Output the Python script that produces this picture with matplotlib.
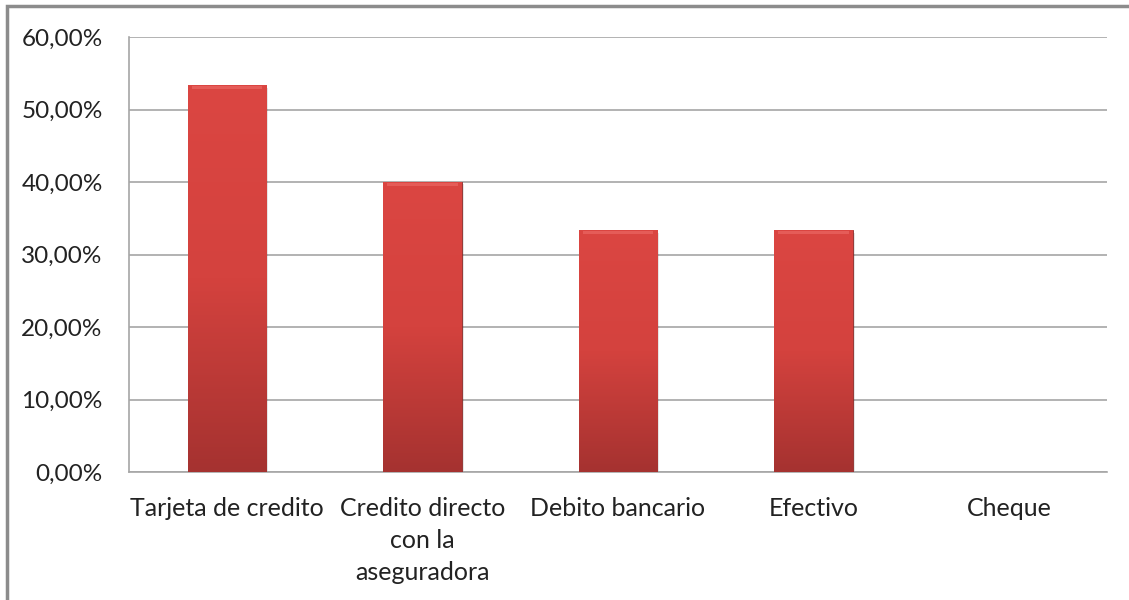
import numpy as np
import matplotlib.pyplot as plt
from matplotlib.colors import LinearSegmentedColormap
from matplotlib.ticker import FuncFormatter

categorias = ["Tarjeta de credito", "Credito directo\ncon la\naseguradora",
              "Debito bancario", "Efectivo", "Cheque"]
valores = [0.5333, 0.40, 0.3333, 0.3333, 0.0]
yticks = [0, 0.1, 0.2, 0.3, 0.4, 0.5, 0.6]

plt.rcParams['font.family'] = ['Lato', 'DejaVu Sans']

fig = plt.figure(figsize=(11.29, 6), dpi=100)
ax = fig.add_axes([0.1143, 0.2133, 0.8662, 0.725])

x = np.arange(len(categorias))
bars = ax.bar(x, valores, width=0.4, color='#d0403c', zorder=3)

# vertical gradient inside each bar (light red top, darker bottom)
cmap = LinearSegmentedColormap.from_list('rojo', ['#a53230', '#d4423e', '#db4642'])
grad = np.linspace(0, 1, 256).reshape(-1, 1)
for b in bars:
    h = b.get_height()
    if h <= 0:
        continue
    x0 = b.get_x()
    w = b.get_width()
    # soft shadow
    ax.bar(x0 + w / 2 + 0.012, h, width=w, bottom=-0.003, color='#000000',
           alpha=0.10, zorder=2)
    im = ax.imshow(grad, extent=[x0, x0 + w, 0, h], origin='lower',
                   cmap=cmap, aspect='auto', zorder=4)
    im.set_clip_path(b)
    b.set_edgecolor('#8a2a28')
    b.set_linewidth(0.6)
    # bevel highlight at top
    ax.bar(x0 + w / 2, 0.004, width=w * 0.9, bottom=h - 0.005, color='#f07470',
           alpha=0.5, zorder=5)

ax.set_xlim(-0.5, len(categorias) - 0.5)
ax.set_ylim(0, 0.6)
ax.set_yticks(yticks)
ax.yaxis.set_major_formatter(FuncFormatter(
    lambda v, p: f"{v*100:.2f}%".replace('.', ',')))
ax.set_xticks(x)
ax.set_xticklabels(categorias, fontsize=18, linespacing=1.47, va='top')
ax.tick_params(axis='y', labelsize=17.5, length=0, pad=19)
ax.tick_params(axis='x', length=0, pad=18)
for lab in ax.get_yticklabels():
    lab.set_color('#222222')
for lab in ax.get_xticklabels():
    lab.set_color('#222222')

ax.grid(axis='y', color='#a6a6a6', linewidth=1.2, zorder=0)
ax.set_axisbelow(True)
for s in ['top', 'right']:
    ax.spines[s].set_visible(False)
for s in ['left', 'bottom']:
    ax.spines[s].set_color('#a6a6a6')
    ax.spines[s].set_linewidth(1.2)

# outer chart border
fig.patches.append(plt.Rectangle((0.0062, -0.05), 1.1, 1.04, transform=fig.transFigure,
                                 fill=False, edgecolor='#8c8c8c', linewidth=2.5))

fig.savefig('out.png', dpi=100)
